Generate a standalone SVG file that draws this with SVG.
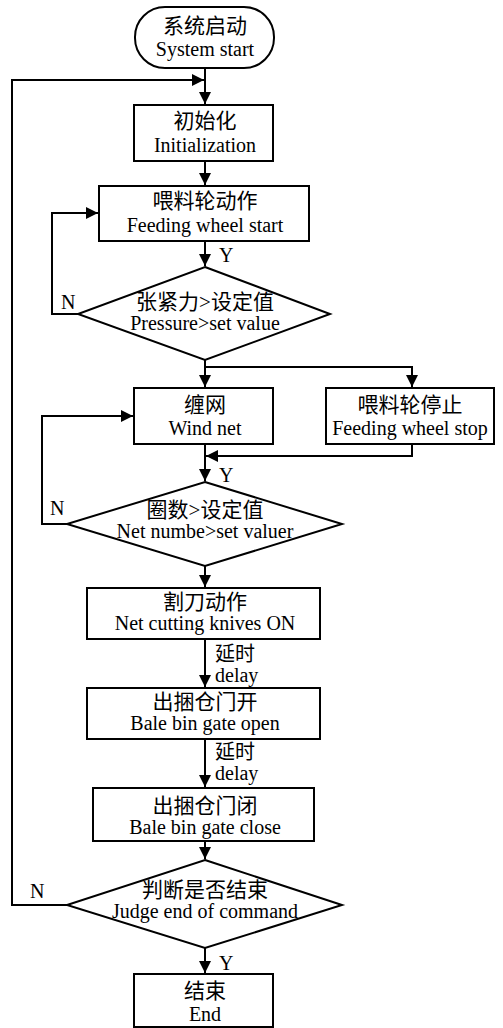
<svg xmlns="http://www.w3.org/2000/svg" width="503" height="1028" viewBox="0 0 503 1028">
<style>
.s{fill:#fff;stroke:#000;stroke-width:2}
.c{fill:none;stroke:#000;stroke-width:2;marker-end:url(#a)}
.l{fill:none;stroke:#000;stroke-width:2}
.zh{font-family:"Liberation Serif","Noto Sans CJK SC",serif;font-size:21px;text-anchor:middle;fill:#000}
.en{font-family:"Liberation Serif",serif;font-size:20px;text-anchor:middle;fill:#000}
.lb{font-family:"Liberation Serif","Noto Sans CJK SC",serif;font-size:20px;fill:#000}
</style>
<defs>
<marker id="a" markerUnits="userSpaceOnUse" markerWidth="12" markerHeight="12" refX="12" refY="6" orient="auto">
<path d="M0,0 L12,6 L0,12 z" fill="#000"/>
</marker>
</defs>
<rect width="503" height="1028" fill="#fff"/>
<g id="connectors">
<path class="c" d="M205,68 V104"/>
<path class="c" d="M205,161 V185"/>
<path class="c" d="M205,241 V266"/>
<path class="c" d="M78,314 H52 V213 H98"/>
<path class="c" d="M205,360 V387"/>
<path class="c" d="M205,367 H412 V387"/>
<path class="c" d="M205,444 V481"/>
<path class="c" d="M412,444 V456 H206"/>
<path class="c" d="M67,524 H42 V416 H133"/>
<path class="c" d="M205,566 V587"/>
<path class="c" d="M205,639 V687"/>
<path class="c" d="M205,739 V787"/>
<path class="c" d="M205,841 V859"/>
<path class="c" d="M67,905 H12 V80 H204"/>
<path class="c" d="M205,948 V973"/>
<text class="lb" x="219" y="262">Y</text>
<text class="lb" x="61" y="309">N</text>
<text class="lb" x="219" y="482">Y</text>
<text class="lb" x="50" y="515">N</text>
<text class="lb" x="215" y="661">延时</text>
<text class="lb" x="215" y="682">delay</text>
<text class="lb" x="215" y="759">延时</text>
<text class="lb" x="215" y="780">delay</text>
<text class="lb" x="30" y="898">N</text>
<text class="lb" x="219" y="970">Y</text>
</g>
<g id="start">
<rect class="s" x="135" y="7" width="139" height="61" rx="30" ry="30"/>
<text class="zh" x="205" y="33">系统启动</text>
<text class="en" x="205" y="56">System start</text>
</g>
<g id="init">
<rect class="s" x="134" y="105" width="139" height="56"/>
<text class="zh" x="205" y="128">初始化</text>
<text class="en" x="205" y="152">Initialization</text>
</g>
<g id="feed">
<rect class="s" x="99" y="186" width="210" height="55"/>
<text class="zh" x="205" y="208">喂料轮动作</text>
<text class="en" x="205" y="232">Feeding wheel start</text>
</g>
<g id="d1">
<polygon class="s" points="205,267 330,314 205,360 78,314"/>
<text class="zh" x="205" y="309">张紧力&gt;设定值</text>
<text class="en" x="205" y="330">Pressure&gt;set value</text>
</g>
<g id="wind">
<rect class="s" x="134" y="388" width="139" height="56"/>
<text class="zh" x="205" y="412">缠网</text>
<text class="en" x="205" y="435">Wind net</text>
</g>
<g id="stop">
<rect class="s" x="326" y="388" width="168" height="56"/>
<text class="zh" x="410" y="412">喂料轮停止</text>
<text class="en" x="410" y="435">Feeding wheel stop</text>
</g>
<g id="d2">
<polygon class="s" points="205,482 342,524 205,566 67,524"/>
<text class="zh" x="205" y="517">圈数&gt;设定值</text>
<text class="en" x="205" y="538">Net numbe&gt;set valuer</text>
</g>
<g id="cut">
<rect class="s" x="87" y="588" width="233" height="51"/>
<text class="zh" x="205" y="609">割刀动作</text>
<text class="en" x="205" y="630">Net cutting knives ON</text>
</g>
<g id="open">
<rect class="s" x="87" y="688" width="233" height="51"/>
<text class="zh" x="205" y="709">出捆仓门开</text>
<text class="en" x="205" y="730">Bale bin gate open</text>
</g>
<g id="close">
<rect class="s" x="93" y="788" width="221" height="53"/>
<text class="zh" x="205" y="813">出捆仓门闭</text>
<text class="en" x="205" y="834">Bale bin gate close</text>
</g>
<g id="d3">
<polygon class="s" points="205,860 342,905 205,948 67,905"/>
<text class="zh" x="205" y="897">判断是否结束</text>
<text class="en" x="205" y="918">Judge end of command</text>
</g>
<g id="end">
<rect class="s" x="134" y="974" width="139" height="53"/>
<text class="zh" x="205" y="998">结束</text>
<text class="en" x="205" y="1021">End</text>
</g>
</svg>
